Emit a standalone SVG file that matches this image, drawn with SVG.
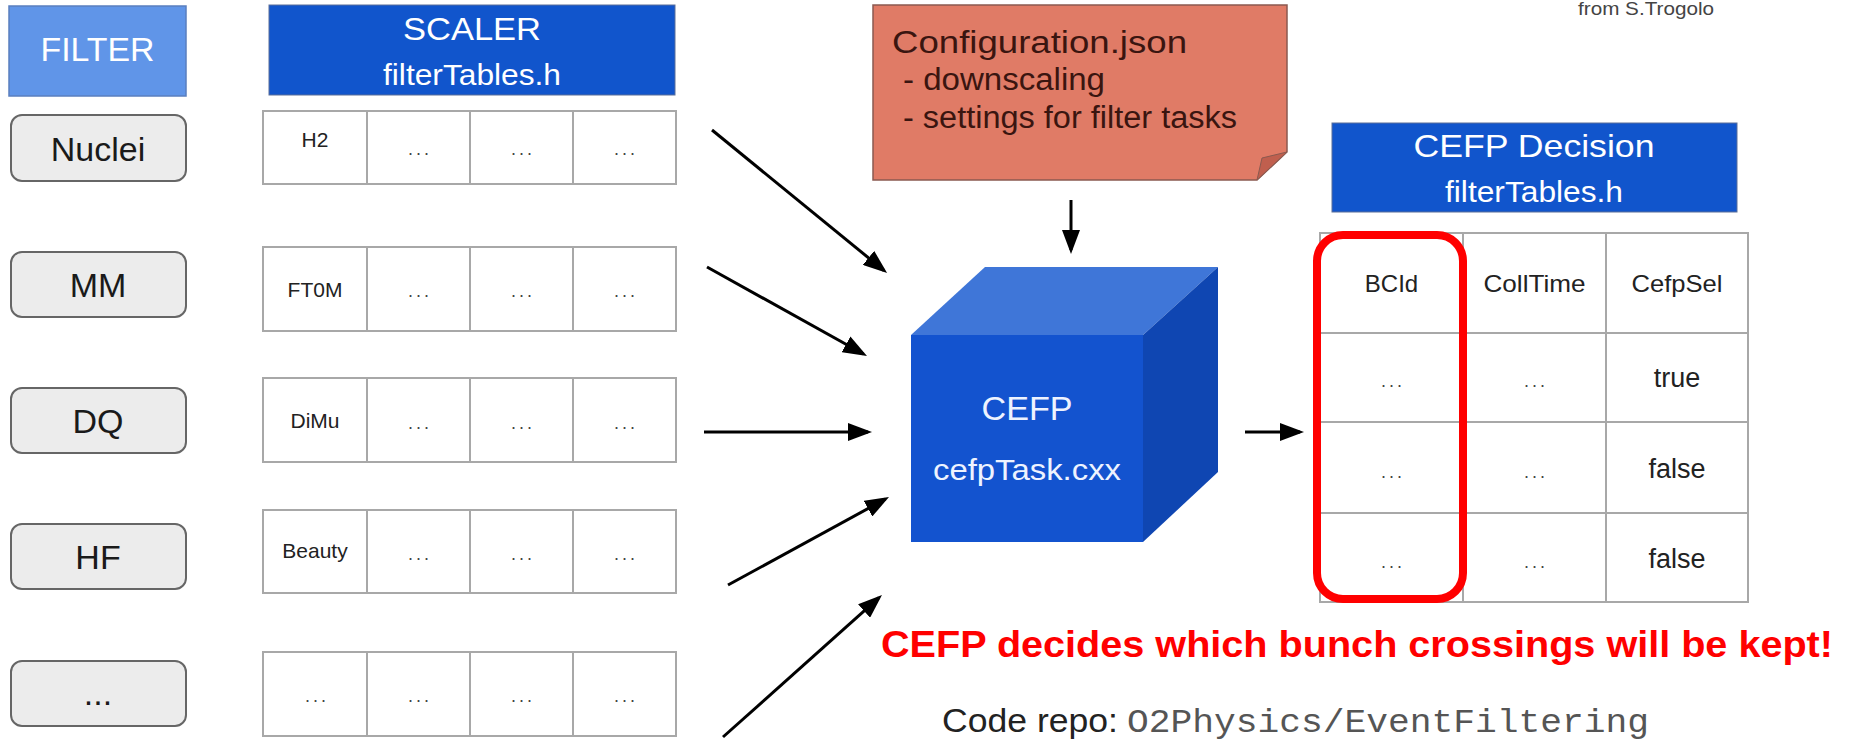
<svg xmlns="http://www.w3.org/2000/svg" width="1849" height="741" viewBox="0 0 1849 741">
  <style>
    .sans { font-family: "Liberation Sans", Arial, Helvetica, sans-serif; }
    .mono { font-family: "Liberation Mono", "Courier New", monospace; }
    .pill { fill: #ececec; stroke: #666666; stroke-width: 2; }
    .pill-text { font-size: 34px; fill: #1a1a1a; text-anchor: middle; }
    .hdr { fill: #1155cc; stroke: #5a6f99; stroke-width: 1; }
    .hdr-title { font-size: 32px; fill: #ffffff; text-anchor: middle; }
    .hdr-sub { font-size: 29px; fill: #ffffff; text-anchor: middle; }
    .cell { fill: #ffffff; stroke: #a8a8a8; stroke-width: 2; }
    .cell-text { font-size: 21px; fill: #222222; text-anchor: middle; }
    .dots { font-size: 18px; fill: #444444; text-anchor: middle; letter-spacing: 3px; }
    .dec-text { font-size: 24px; fill: #222222; text-anchor: middle; }
    .dec-val { font-size: 27px; fill: #222222; text-anchor: middle; }
    .arrow { stroke: #000000; stroke-width: 3; fill: none; marker-end: url(#head); }
    .note-text { font-size: 31px; fill: #3a1510; }
  </style>
  <defs>
    <marker id="head" markerUnits="userSpaceOnUse" markerWidth="24" markerHeight="18" viewBox="0 0 24 18" refX="20" refY="9" orient="auto">
      <path d="M0,0 L24,9 L0,18 z" fill="#000000"/>
    </marker>
  </defs>

  <rect width="1849" height="741" fill="#ffffff"/>

  <!-- attribution -->
  <text class="sans" x="1578" y="15" font-size="19" fill="#444444" textLength="136" lengthAdjust="spacingAndGlyphs">from S.Trogolo</text>

  <!-- filter column -->
  <g id="filter-header">
    <rect x="9" y="6" width="177" height="90" fill="#6095e8" stroke="#5a7fbf" stroke-width="1.5"/>
    <text class="sans" x="97.5" y="61" font-size="34" fill="#ffffff" text-anchor="middle" textLength="114" lengthAdjust="spacingAndGlyphs">FILTER</text>
  </g>
  <g id="filter-nuclei">
    <rect class="pill" x="11" y="115" width="175" height="66" rx="11"/>
    <text class="sans pill-text" x="98" y="161">Nuclei</text>
  </g>
  <g id="filter-mm">
    <rect class="pill" x="11" y="252" width="175" height="65" rx="11"/>
    <text class="sans pill-text" x="98" y="297">MM</text>
  </g>
  <g id="filter-dq">
    <rect class="pill" x="11" y="388" width="175" height="65" rx="11"/>
    <text class="sans pill-text" x="98" y="433">DQ</text>
  </g>
  <g id="filter-hf">
    <rect class="pill" x="11" y="524" width="175" height="65" rx="11"/>
    <text class="sans pill-text" x="98" y="569">HF</text>
  </g>
  <g id="filter-more">
    <rect class="pill" x="11" y="661" width="175" height="65" rx="11"/>
    <text class="sans pill-text" x="98" y="705">...</text>
  </g>

  <!-- scaler tables -->
  <g id="scaler-header">
    <rect class="hdr" x="269" y="5" width="406" height="90"/>
    <text class="sans hdr-title" x="472" y="40" textLength="138" lengthAdjust="spacingAndGlyphs">SCALER</text>
    <text class="sans hdr-sub" x="472" y="85" textLength="178" lengthAdjust="spacingAndGlyphs">filterTables.h</text>
  </g>
  <g id="scaler-row-nuclei">
    <rect class="cell" x="263" y="111" width="104" height="73"/>
    <rect class="cell" x="367" y="111" width="103" height="73"/>
    <rect class="cell" x="470" y="111" width="103" height="73"/>
    <rect class="cell" x="573" y="111" width="103" height="73"/>
    <text class="sans cell-text" x="315" y="147" font-size="18">H2</text>
    <text class="sans dots" x="420" y="155">...</text>
    <text class="sans dots" x="523" y="155">...</text>
    <text class="sans dots" x="626" y="155">...</text>
  </g>
  <g id="scaler-row-mm">
    <rect class="cell" x="263" y="247" width="104" height="84"/>
    <rect class="cell" x="367" y="247" width="103" height="84"/>
    <rect class="cell" x="470" y="247" width="103" height="84"/>
    <rect class="cell" x="573" y="247" width="103" height="84"/>
    <text class="sans cell-text" x="315" y="297">FT0M</text>
    <text class="sans dots" x="420" y="297">...</text>
    <text class="sans dots" x="523" y="297">...</text>
    <text class="sans dots" x="626" y="297">...</text>
  </g>
  <g id="scaler-row-dq">
    <rect class="cell" x="263" y="378" width="104" height="84"/>
    <rect class="cell" x="367" y="378" width="103" height="84"/>
    <rect class="cell" x="470" y="378" width="103" height="84"/>
    <rect class="cell" x="573" y="378" width="103" height="84"/>
    <text class="sans cell-text" x="315" y="428" font-size="20">DiMu</text>
    <text class="sans dots" x="420" y="429">...</text>
    <text class="sans dots" x="523" y="429">...</text>
    <text class="sans dots" x="626" y="429">...</text>
  </g>
  <g id="scaler-row-hf">
    <rect class="cell" x="263" y="510" width="104" height="83"/>
    <rect class="cell" x="367" y="510" width="103" height="83"/>
    <rect class="cell" x="470" y="510" width="103" height="83"/>
    <rect class="cell" x="573" y="510" width="103" height="83"/>
    <text class="sans cell-text" x="315" y="558" font-size="22">Beauty</text>
    <text class="sans dots" x="420" y="560">...</text>
    <text class="sans dots" x="523" y="560">...</text>
    <text class="sans dots" x="626" y="560">...</text>
  </g>
  <g id="scaler-row-more">
    <rect class="cell" x="263" y="652" width="104" height="84"/>
    <rect class="cell" x="367" y="652" width="103" height="84"/>
    <rect class="cell" x="470" y="652" width="103" height="84"/>
    <rect class="cell" x="573" y="652" width="103" height="84"/>
    <text class="sans dots" x="317" y="702">...</text>
    <text class="sans dots" x="420" y="702">...</text>
    <text class="sans dots" x="523" y="702">...</text>
    <text class="sans dots" x="626" y="702">...</text>
  </g>

  <!-- configuration note with folded corner -->
  <g id="config-note">
    <polygon points="873,5 1287,5 1287,152 1257,180 873,180" fill="#e07b66" stroke="#8a5a50" stroke-width="1.5"/>
    <polygon points="1287,152 1257,180 1262,158" fill="#c05f4e" stroke="#8a5a50" stroke-width="1"/>
    <text class="sans note-text" x="892" y="53" textLength="295" lengthAdjust="spacingAndGlyphs">Configuration.json</text>
    <text class="sans note-text" x="903" y="90" font-size="30" textLength="202" lengthAdjust="spacingAndGlyphs">- downscaling</text>
    <text class="sans note-text" x="903" y="128" font-size="30" textLength="334" lengthAdjust="spacingAndGlyphs">- settings for filter tasks</text>
  </g>

  <!-- CEFP processing cube -->
  <g id="cefp-cube">
    <polygon points="911,335 985,267 1218,267 1143,335" fill="#3f76d8"/>
    <polygon points="1143,335 1218,267 1218,472 1143,542" fill="#0f46b2"/>
    <rect x="911" y="335" width="232" height="207" fill="#1353cf"/>
    <text class="sans" x="1027" y="420" font-size="33" fill="#eef3ff" text-anchor="middle" textLength="91" lengthAdjust="spacingAndGlyphs">CEFP</text>
    <text class="sans" x="1027" y="480" font-size="30" fill="#eef3ff" text-anchor="middle" textLength="188" lengthAdjust="spacingAndGlyphs">cefpTask.cxx</text>
  </g>

  <!-- decision table -->
  <g id="decision-header">
    <rect class="hdr" x="1332" y="123" width="405" height="89"/>
    <text class="sans hdr-title" x="1534" y="157" textLength="241" lengthAdjust="spacingAndGlyphs">CEFP Decision</text>
    <text class="sans hdr-sub" x="1534" y="202" textLength="178" lengthAdjust="spacingAndGlyphs">filterTables.h</text>
  </g>
  <g id="decision-table">
    <rect class="cell" x="1320" y="233" width="428" height="369"/>
    <line x1="1463" y1="233" x2="1463" y2="602" stroke="#a8a8a8" stroke-width="2"/>
    <line x1="1606" y1="233" x2="1606" y2="602" stroke="#a8a8a8" stroke-width="2"/>
    <line x1="1320" y1="333" x2="1748" y2="333" stroke="#a8a8a8" stroke-width="2"/>
    <line x1="1320" y1="422" x2="1748" y2="422" stroke="#a8a8a8" stroke-width="2"/>
    <line x1="1320" y1="513" x2="1748" y2="513" stroke="#a8a8a8" stroke-width="2"/>
    <text class="sans dec-text" x="1391.5" y="292" font-size="25">BCId</text>
    <text class="sans dec-text" x="1534.5" y="292" textLength="102" lengthAdjust="spacingAndGlyphs">CollTime</text>
    <text class="sans dec-text" x="1677" y="292" textLength="91" lengthAdjust="spacingAndGlyphs">CefpSel</text>
    <text class="sans dots" x="1393" y="387">...</text>
    <text class="sans dots" x="1536" y="387">...</text>
    <text class="sans dec-val" x="1677" y="387">true</text>
    <text class="sans dots" x="1393" y="478">...</text>
    <text class="sans dots" x="1536" y="478">...</text>
    <text class="sans dec-val" x="1677" y="478">false</text>
    <text class="sans dots" x="1393" y="568">...</text>
    <text class="sans dots" x="1536" y="568">...</text>
    <text class="sans dec-val" x="1677" y="568">false</text>
  </g>
  <g id="bcid-highlight">
    <rect x="1317" y="235" width="146" height="364" rx="26" fill="none" stroke="#ff0000" stroke-width="8"/>
  </g>

  <!-- connectors -->
  <g id="connectors">
    <line class="arrow" x1="712" y1="130" x2="884" y2="270.5"/>
    <line class="arrow" x1="707" y1="267" x2="863.5" y2="354"/>
    <line class="arrow" x1="704" y1="432" x2="868" y2="432"/>
    <line class="arrow" x1="728" y1="585" x2="885.5" y2="499"/>
    <line class="arrow" x1="723" y1="737" x2="879" y2="597.7"/>
    <line class="arrow" x1="1071" y1="200" x2="1071" y2="250"/>
    <line class="arrow" x1="1245" y1="432" x2="1300" y2="432"/>
  </g>

  <!-- annotations -->
  <text class="sans" x="881" y="657" font-size="37" font-weight="bold" fill="#ff0000" textLength="952" lengthAdjust="spacingAndGlyphs">CEFP decides which bunch crossings will be kept!</text>
  <text class="sans" x="942" y="732" font-size="33" fill="#222222" textLength="176" lengthAdjust="spacingAndGlyphs">Code repo:</text>
  <text class="mono" x="1127" y="732" font-size="33" fill="#555555" textLength="522" lengthAdjust="spacingAndGlyphs">O2Physics/EventFiltering</text>
</svg>
